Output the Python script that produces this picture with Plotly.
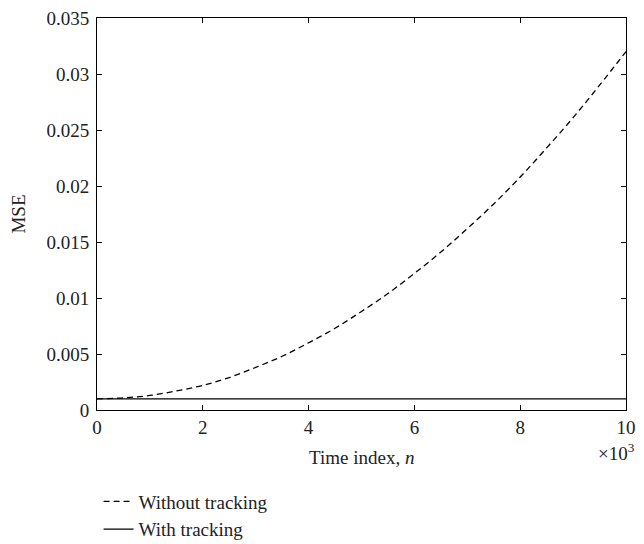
import plotly.graph_objects as go

# Time index (x 10^3)
n_vals = [0, 0.5, 1, 1.5, 2, 2.5, 3, 3.5, 4, 4.5, 5, 5.5, 6, 6.5, 7, 7.5, 8, 8.5, 9, 9.5, 10]
mse_without = [0.0010, 0.00108, 0.0013, 0.0017, 0.0022, 0.0029, 0.0038, 0.0048, 0.0060, 0.0073,
               0.0088, 0.0104, 0.0122, 0.0141, 0.0162, 0.0184, 0.0208, 0.0234, 0.0261, 0.0290, 0.0320]
n_with = [0, 10]
mse_with = [0.001, 0.001]

x_ticks = [0, 2, 4, 6, 8, 10]
x_ticktext = ["0", "2", "4", "6", "8", "10"]
y_ticks = [0, 0.005, 0.01, 0.015, 0.02, 0.025, 0.03, 0.035]
y_ticktext = ["0", "0.005", "0.01", "0.015", "0.02", "0.025", "0.03", "0.035"]

FONT = "Liberation Serif, Times New Roman, serif"
FS = 19

fig = go.Figure()
fig.add_trace(go.Scatter(x=n_vals, y=mse_without, mode="lines", name="Without tracking",
                         line=dict(color="black", width=1.3, dash="6px,4px", shape="spline")))
fig.add_trace(go.Scatter(x=n_with, y=mse_with, mode="lines", name="With tracking",
                         line=dict(color="black", width=1.3)))

axis_common = dict(showline=True, linecolor="black", linewidth=1, mirror="ticks",
                   ticks="inside", ticklen=5, tickcolor="black", showgrid=False, zeroline=False,
                   automargin=False, ticklabeloverflow="allow",
                   tickfont=dict(family=FONT, size=FS, color="#222"))

# page body has an 8px margin, so the figure is sized to fill the remaining window
fig.update_layout(
    width=636, height=536,
    margin=dict(l=89, r=18, t=10, b=134, autoexpand=False),
    paper_bgcolor="white", plot_bgcolor="white",
    font=dict(family=FONT, size=FS, color="#222"),
    xaxis=dict(range=[0, 10], tickvals=x_ticks, ticktext=x_ticktext, **axis_common),
    yaxis=dict(range=[0, 0.035], tickvals=y_ticks, ticktext=y_ticktext, ticklabelstandoff=3,
               title=dict(text="MSE", font=dict(family=FONT, size=FS), standoff=20),
               **axis_common),
    legend=dict(x=0.003, y=-0.185, xanchor="left", yanchor="top",
                bgcolor="rgba(0,0,0,0)", font=dict(family=FONT, size=FS, color="#222"),
                tracegroupgap=0, itemwidth=30),
    showlegend=True,
)

fig.add_annotation(text="Time index, <i>n</i>", xref="paper", yref="paper", x=0.5, y=-0.12,
                   xanchor="center", yanchor="middle", showarrow=False,
                   font=dict(family=FONT, size=FS, color="#222"))
fig.add_annotation(text="×10<sup>3</sup>", xref="paper", yref="paper", x=1.02, y=-0.072,
                   xanchor="right", yanchor="top", showarrow=False,
                   font=dict(family=FONT, size=FS, color="#222"))

fig.write_html("out.html")
